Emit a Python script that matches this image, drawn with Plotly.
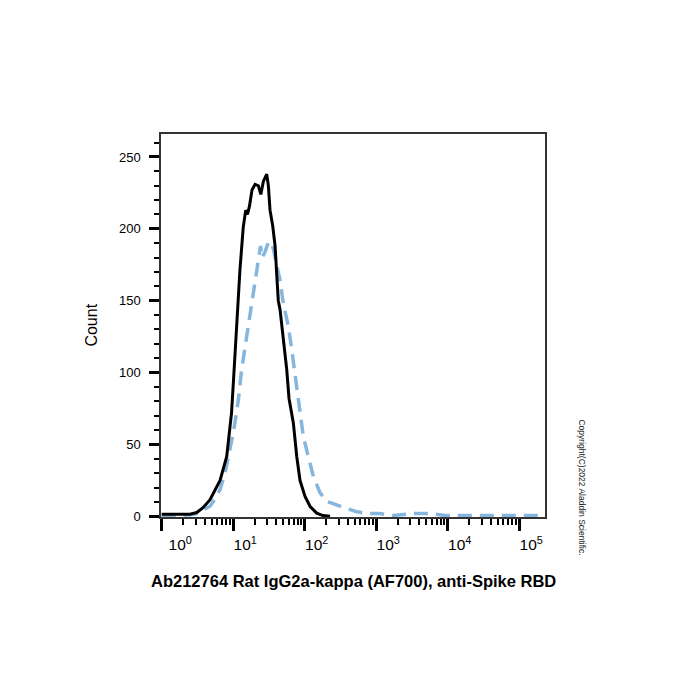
import plotly.graph_objects as go

# ---- data ----
stained_x = [1.0, 1.53, 2.49, 3.09, 3.78, 4.74, 5.56, 6.54, 8.11, 9.02, 9.47, 10.1, 11.1, 12.4,
             13.8, 14.95, 15.85, 16.9, 18.3, 20.2, 22.5, 24.3, 26.4, 29.4, 31.0, 32.7, 35.7,
             38.5, 40.6, 42.7, 45.2, 50.2, 56.0, 60.3, 69.3, 77.3, 85.9, 101, 119, 147, 180, 226]
stained_y = [1.5, 1.5, 1.5, 2.6, 6, 11.5, 18, 25, 41.6, 60, 72, 95, 130, 171,
             201, 213, 210, 216, 227, 231, 230, 224, 233, 238, 230, 213, 202,
             188, 168, 150, 143.7, 125, 102, 82, 65, 41.6, 25, 13.8, 6.8, 2.2, 0.5, 0]

isotype_x = [1.0, 1.80, 2.49, 3.09, 3.78, 4.74, 5.56, 6.54, 7.68, 9.02, 10.0, 10.9, 11.8, 13.1,
             15.4, 17.2, 20.2, 22.4, 24.1, 25.3, 27.9, 30.7, 33.8, 36.4, 40.6, 45.2, 50.2,
             59.0, 65.8, 73.1, 81.5, 85.9, 95.5, 112, 132, 164, 203, 312, 505, 736, 1130,
             1720, 3270, 5650, 9160, 229000]
isotype_y = [0.3, 0.5, 1.0, 1.9, 4, 7, 12, 18.6, 30, 46, 58, 69.5, 81, 102,
             125, 141, 162, 177, 188, 180, 184, 190, 191, 186, 176, 164, 148,
             132, 116, 100, 82, 72, 55.6, 41.7, 27.8, 16.3, 10.4, 7, 3.5, 1.9, 1.9,
             0.5, 1.9, 1.9, 0.5, 0.5]

x_major_vals = [1, 10, 100, 1000, 10000, 100000]
x_major_text = ["&nbsp;&nbsp;&nbsp;10<sup>0</sup>", "10<sup>1</sup>", "10<sup>2</sup>",
                "10<sup>3</sup>", "10<sup>4</sup>", "10<sup>5</sup>"]
x_minor_vals = [m * 10 ** k for k in range(0, 5) for m in range(2, 10)]
y_tick_vals = [0, 50, 100, 150, 200, 250]

x_title = "Ab212764 Rat IgG2a-kappa (AF700), anti-Spike RBD"
y_title = "Count"
copyright_text = "Copyright(C)2022 Aladdin Scientific."

FONT = "Liberation Sans, Arial, sans-serif"

fig = go.Figure()
fig.add_trace(go.Scatter(x=isotype_x, y=isotype_y, mode="lines",
                         line=dict(color="#86b6de", width=3.5, dash="14px,8px"),
                         hoverinfo="skip", showlegend=False))
fig.add_trace(go.Scatter(x=stained_x, y=stained_y, mode="lines",
                         line=dict(color="black", width=3),
                         hoverinfo="skip", showlegend=False))

fig.update_layout(
    width=700, height=700,
    margin=dict(l=161, r=155, t=134, b=183, pad=0),
    paper_bgcolor="white", plot_bgcolor="white",
    font=dict(family=FONT, color="black"),
    showlegend=False,
)

fig.update_xaxes(
    type="log", range=[-0.01, 5.36],
    showgrid=False, zeroline=False,
    showline=True, linecolor="#333333", linewidth=1.5, mirror=True,
    tickmode="array", tickvals=x_major_vals, ticktext=x_major_text,
    ticks="outside", ticklen=12, tickwidth=3, tickcolor="black",
    tickfont=dict(size=15.5, family=FONT, color="black"),
    ticklabelshift=12, ticklabelstandoff=1,
    minor=dict(tickmode="array", tickvals=x_minor_vals, ticks="outside",
               ticklen=6, tickwidth=1.5, tickcolor="black", showgrid=False),
)
fig.update_yaxes(
    range=[-0.5, 266],
    showgrid=False, zeroline=False,
    showline=True, linecolor="#333333", linewidth=1.5, mirror=True,
    tickmode="array", tickvals=y_tick_vals,
    ticks="outside", ticklen=10, tickwidth=3, tickcolor="black",
    tickfont=dict(size=13, family=FONT, color="black"),
    ticklabelstandoff=6,
    minor=dict(dtick=10, tick0=0, ticks="outside", ticklen=5, tickwidth=1.5,
               tickcolor="black", showgrid=False),
)

fig.add_annotation(text="<b>" + x_title + "</b>", xref="paper", yref="paper",
                   x=0.5, y=-0.166, xanchor="center", yanchor="middle", showarrow=False,
                   font=dict(size=16.5, family=FONT, color="black"))
fig.add_annotation(text=y_title, xref="paper", yref="paper",
                   x=-0.182, y=0.5, xanchor="center", yanchor="middle", showarrow=False,
                   textangle=-90, font=dict(size=16, family=FONT, color="black"))
fig.add_annotation(text=copyright_text, xref="paper", yref="paper",
                   x=1.096, y=0.0775, xanchor="center", yanchor="middle", showarrow=False,
                   textangle=90, font=dict(size=8.5, family=FONT, color="#222222"))

fig.write_html("out.html")
